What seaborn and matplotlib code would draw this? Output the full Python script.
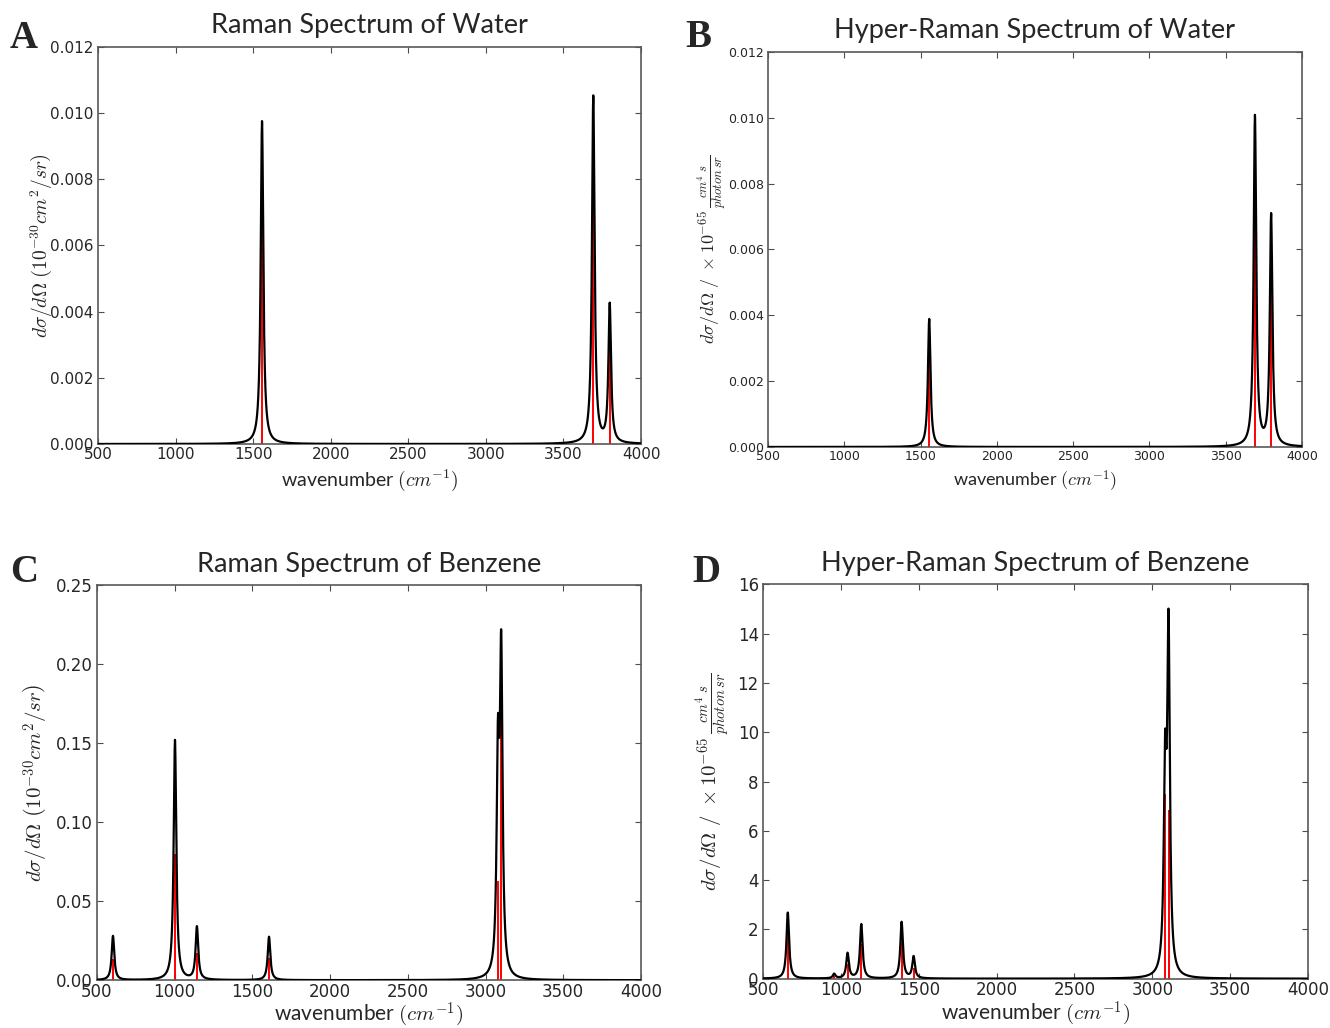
import numpy as np
import pandas as pd
import seaborn as sns
import matplotlib.pyplot as plt

# peak positions (cm-1), curve peak heights and stick heights
water_raman_pos = [1557, 3692, 3798]
water_raman_peak = [0.00976, 0.01050, 0.00418]
water_raman_stick = [0.0075, 0.0085, 0.0035]

water_hyper_pos = [1557, 3692, 3798]
water_hyper_peak = [0.00389, 0.01003, 0.00702]
water_hyper_stick = [0.0033, 0.0085, 0.0062]

benz_raman_pos = [603, 1002, 1143, 1607, 3080, 3101]
benz_raman_peak = [0.0280, 0.1520, 0.0335, 0.0275, 0.1310, 0.1980]
benz_raman_stick = [0.0137, 0.0800, 0.0170, 0.0140, 0.0630, 0.1700]

benz_hyper_pos = [659, 957, 1043, 1131, 1390, 1467, 3082, 3104]
benz_hyper_peak = [2.68, 0.18, 1.02, 2.20, 2.29, 0.88, 7.7, 13.7]
benz_hyper_stick = [1.8, 0.10, 0.60, 1.40, 1.50, 0.45, 7.5, 6.85]

hwhm = 10.0  # lorentzian half width, cm-1

sns.set_style("ticks")
plt.rcParams["mathtext.fontset"] = "cm"
plt.rcParams["font.family"] = ["DejaVu Sans"]

fig = plt.figure(figsize=(13.3, 10.28), dpi=100)
wn = np.linspace(500, 4000, 3501)


def spectrum(pos, peak):
    y = np.zeros_like(wn)
    for p, a in zip(pos, peak):
        y += a * hwhm**2 / ((wn - p) ** 2 + hwhm**2)
    return pd.DataFrame({"wavenumber": wn, "intensity": y})


panels = [
    ([0.0737, 0.5681, 0.4083, 0.3862], "Raman Spectrum of Water", "A",
     water_raman_pos, water_raman_peak, water_raman_stick,
     np.arange(0, 0.0121, 0.002), "%.3f", 0.012,
     r"$d\sigma/d\Omega\ \left(10^{-30}cm^2/sr\right)$", -0.079, 11, 14, 14, 4),
    ([0.5774, 0.5652, 0.4015, 0.3842], "Hyper-Raman Spectrum of Water", "B",
     water_hyper_pos, water_hyper_peak, water_hyper_stick,
     np.arange(0, 0.0121, 0.002), "%.3f", 0.012,
     r"$d\sigma/d\Omega\ /\ \times10^{-65}\,\frac{cm^4\ s}{photon\,sr}$", -0.075, 9, 13, 13, 4),
    ([0.0729, 0.0465, 0.4090, 0.3840], "Raman Spectrum of Benzene", "C",
     benz_raman_pos, benz_raman_peak, benz_raman_stick,
     np.arange(0, 0.251, 0.05), "%.2f", 0.25,
     r"$d\sigma/d\Omega\ \left(10^{-30}cm^2/sr\right)$", -0.086, 12, 15, 15, 0),
    ([0.5737, 0.0480, 0.4098, 0.3835], "Hyper-Raman Spectrum of Benzene", "D",
     benz_hyper_pos, benz_hyper_peak, benz_hyper_stick,
     np.arange(0, 16.1, 2), "%d", 16,
     r"$d\sigma/d\Omega\ /\ \times10^{-65}\,\frac{cm^4\ s}{photon\,sr}$", -0.056, 12, 15, 15, 0),
]

letter_xy = {"A": (10, 48), "B": (685, 47), "C": (10, 582), "D": (692, 582)}

for (rect, title, letter, pos, peak, stick, yt, yfmt, ymax, ylab, ylx,
     tfs, xfs, yfs, xpad) in panels:
    ax = fig.add_axes(rect)
    ax.vlines(pos, 0, stick, color="red", lw=1.4, zorder=2)
    sns.lineplot(data=spectrum(pos, peak), x="wavenumber", y="intensity",
                 color="black", lw=1.6, ax=ax, zorder=3)
    ax.set_xlim(500, 4000)
    ax.set_ylim(0, ymax)
    ax.set_xticks(np.arange(500, 4001, 500))
    ax.set_yticks(yt)
    ax.set_yticklabels([yfmt % v for v in yt])
    ax.tick_params(direction="in", top=True, right=True, labelsize=tfs,
                   length=4, color="0.3", pad=3)
    ax.tick_params(axis="x", pad=2)
    for s in ax.spines.values():
        s.set_color("0.35")
        s.set_linewidth(1.2)
    ax.set_xlabel(r"wavenumber $(cm^{-1})$", fontsize=xfs,
                  family=["Lato", "DejaVu Sans"], labelpad=xpad)
    ax.set_ylabel(ylab, fontsize=yfs, color="0.15")
    ax.yaxis.set_label_coords(ylx, 0.5)
    ax.set_title(title, fontsize=19.5, family=["Lato", "DejaVu Sans"], pad=10)
    lx, ly = letter_xy[letter]
    fig.text(lx / 1330, 1 - ly / 1028, letter, fontsize=28, fontweight="bold",
             family=["Liberation Serif"])

fig.savefig("out.png", dpi=100)
